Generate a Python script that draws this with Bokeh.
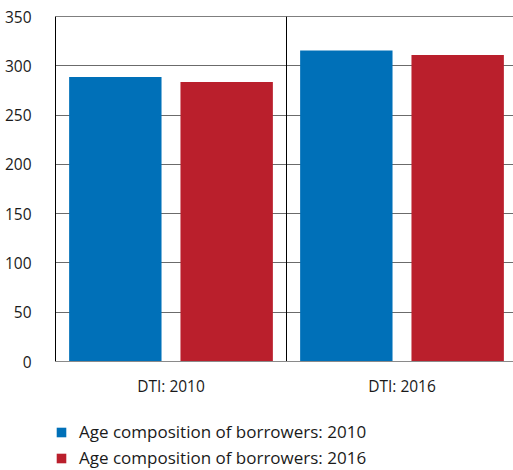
from bokeh.plotting import figure
from bokeh.models import Range1d, FixedTicker, Span, Legend, LegendItem, ColumnDataSource
from bokeh.core.properties import value
from bokeh.embed import file_html
from bokeh.resources import INLINE

categories = ["DTI: 2010", "DTI: 2016"]
series_names = ["Age composition of borrowers: 2010", "Age composition of borrowers: 2016"]
values_2010 = [288.5, 315.5]
values_2016 = [283.5, 311.0]
colors = ["#0070B8", "#BA1F2C"]
y_ticks = [0, 50, 100, 150, 200, 250, 300, 350]

FONT = "Open Sans"

centers = [i + 0.5 for i in range(len(categories))]
offset = 0.241
bar_w = 0.40

FRAME_W = 458
CAT_W = 231            # pixels per category
FRAME_H = 453          # frame reaches down to hold the legend
PLOT_H = 345           # pixels used by 0..350
y_top = y_ticks[-1]
y_bottom = y_top - FRAME_H * y_top / PLOT_H

p = figure(frame_width=FRAME_W, frame_height=FRAME_H, output_backend="svg",
           toolbar_location=None, x_axis_location=None,
           x_range=Range1d(0, FRAME_W / CAT_W), y_range=Range1d(y_bottom, y_top),
           min_border_left=55, min_border_top=16, min_border_right=0,
           min_border_bottom=0)

src1 = ColumnDataSource(dict(x=[c - offset for c in centers], top=values_2010))
src2 = ColumnDataSource(dict(x=[c + offset for c in centers], top=values_2016))
r1 = p.vbar(x="x", top="top", width=bar_w, source=src1, fill_color=colors[0], line_color=None)
r2 = p.vbar(x="x", top="top", width=bar_w, source=src2, fill_color=colors[1], line_color=None)

p.outline_line_color = None
p.xgrid.visible = False
p.ygrid.ticker = FixedTicker(ticks=y_ticks[1:-1])
p.ygrid.grid_line_color = "#6b6b6b"
p.ygrid.level = "underlay"

p.add_layout(Span(location=y_ticks[-1], dimension="width", line_color="black", line_width=1))
p.add_layout(Span(location=y_ticks[0], dimension="width", line_color="#8a8a8a", line_width=1))

dividers = list(range(1, len(categories)))
p.segment(x0=dividers, y0=[y_ticks[0]] * len(dividers), x1=dividers,
          y1=[y_ticks[-1]] * len(dividers), line_color="black", line_width=1)

p.text(x=centers, y=[0] * len(centers), text=categories, y_offset=24,
       text_align="center", text_baseline="middle",
       text_font=value(FONT), text_font_size="15.5px", text_color="#1a1a1a")

p.yaxis.ticker = FixedTicker(ticks=y_ticks)
p.yaxis.bounds = (y_ticks[0], y_ticks[-1])
p.yaxis.axis_line_color = "black"
p.yaxis.major_tick_line_color = None
p.yaxis.minor_tick_line_color = None
p.yaxis.major_label_text_font = FONT
p.yaxis.major_label_text_font_size = "15.5px"
p.yaxis.major_label_text_color = "#1a1a1a"
p.yaxis.major_label_standoff = 18

legend = Legend(items=[LegendItem(label=series_names[0], renderers=[r1]),
                       LegendItem(label=series_names[1], renderers=[r2])],
                orientation="vertical", location=(0, 0),
                border_line_color=None, background_fill_alpha=0,
                glyph_width=12, glyph_height=12, label_standoff=12,
                label_text_font=FONT, label_text_font_size="17px",
                label_text_color="#1a1a1a", label_height=20, spacing=3,
                padding=0, margin=0)
p.add_layout(legend)

open("out.html", "w").write(file_html(p, INLINE))
